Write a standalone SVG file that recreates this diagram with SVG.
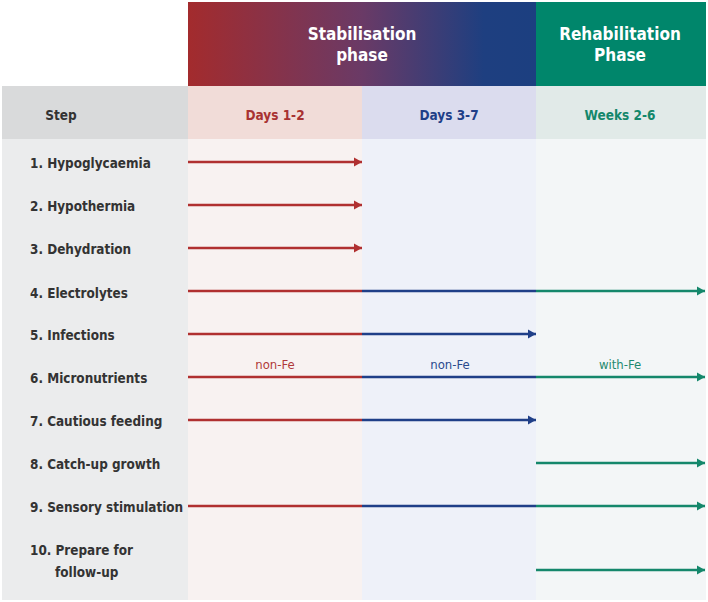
<svg xmlns="http://www.w3.org/2000/svg" width="708" height="602" viewBox="0 0 708 602">
<defs>
<linearGradient id="stab" x1="0" y1="0" x2="1" y2="0">
<stop offset="0" stop-color="#a32b2d"/>
<stop offset="0.5" stop-color="#6a3a66"/>
<stop offset="0.85" stop-color="#1e3f80"/>
<stop offset="1" stop-color="#1c3f80"/>
</linearGradient>
<marker id="ar" markerUnits="userSpaceOnUse" markerWidth="12" markerHeight="12" refX="9" refY="6" orient="auto"><path d="M1,1.5 L9,6 L1,10.5 Z" fill="#b03030"/></marker>
<marker id="ab" markerUnits="userSpaceOnUse" markerWidth="12" markerHeight="12" refX="9" refY="6" orient="auto"><path d="M1,1.5 L9,6 L1,10.5 Z" fill="#1f3f88"/></marker>
<marker id="ag" markerUnits="userSpaceOnUse" markerWidth="12" markerHeight="12" refX="9" refY="6" orient="auto"><path d="M1,1.5 L9,6 L1,10.5 Z" fill="#14876b"/></marker>
</defs>
<style>
.lbl{font-family:"DejaVu Sans Condensed","DejaVu Sans","Liberation Sans",sans-serif;font-weight:bold;font-size:13.4px;fill:#333333}
.hd{font-family:"DejaVu Sans Condensed","DejaVu Sans","Liberation Sans",sans-serif;font-weight:bold;font-size:17px;fill:#ffffff;text-anchor:middle}
.sub{font-family:"DejaVu Sans Condensed","DejaVu Sans","Liberation Sans",sans-serif;font-weight:bold;font-size:13.5px;text-anchor:middle}
.fe{font-family:"DejaVu Sans Condensed","DejaVu Sans","Liberation Sans",sans-serif;font-size:13px;text-anchor:middle}
.r{stroke:#b03030;stroke-width:2.5;fill:none}
.b{stroke:#1f3f88;stroke-width:2.5;fill:none}
.g{stroke:#14876b;stroke-width:2.5;fill:none}
</style>
<rect x="0" y="0" width="708" height="602" fill="#ffffff"/>
<g id="header">
<rect x="188" y="2" width="348" height="84" fill="url(#stab)"/>
<rect x="536" y="2" width="170" height="84" fill="#00866b"/>
<text class="hd" x="362" y="40">Stabilisation</text>
<text class="hd" x="362" y="61">phase</text>
<text class="hd" x="620" y="40">Rehabilitation</text>
<text class="hd" x="620" y="61">Phase</text>
</g>
<g id="subheader">
<rect x="2" y="86" width="186" height="53" fill="#d9dadb"/>
<rect x="188" y="86" width="174" height="53" fill="#f1dcd8"/>
<rect x="362" y="86" width="174" height="53" fill="#dbdcee"/>
<rect x="536" y="86" width="170" height="53" fill="#e1eae8"/>
<text class="sub" x="61" y="120" fill="#333333">Step</text>
<text class="sub" x="275" y="120" fill="#a83232">Days 1-2</text>
<text class="sub" x="449" y="120" fill="#1f3f88">Days 3-7</text>
<text class="sub" x="620" y="120" fill="#14876b">Weeks 2-6</text>
</g>
<g id="body">
<rect x="2" y="139" width="186" height="461" fill="#ebeced"/>
<rect x="188" y="139" width="174" height="461" fill="#f8f2f1"/>
<rect x="362" y="139" width="174" height="461" fill="#eef1f9"/>
<rect x="536" y="139" width="170" height="461" fill="#f3f6f7"/>
</g>
<g id="labels">
<text class="lbl" x="30" y="168">1. Hypoglycaemia</text>
<text class="lbl" x="30" y="211">2. Hypothermia</text>
<text class="lbl" x="30" y="254">3. Dehydration</text>
<text class="lbl" x="30" y="298">4. Electrolytes</text>
<text class="lbl" x="30" y="340">5. Infections</text>
<text class="lbl" x="30" y="383">6. Micronutrients</text>
<text class="lbl" x="30" y="426">7. Cautious feeding</text>
<text class="lbl" x="30" y="469">8. Catch-up growth</text>
<text class="lbl" x="30" y="512">9. Sensory stimulation</text>
<text class="lbl" x="30" y="555">10. Prepare for</text>
<text class="lbl" x="55" y="577">follow-up</text>
</g>
<g id="connectors">
<line class="r" x1="188" y1="162" x2="362" y2="162" marker-end="url(#ar)"/>
<line class="r" x1="188" y1="205" x2="362" y2="205" marker-end="url(#ar)"/>
<line class="r" x1="188" y1="248" x2="362" y2="248" marker-end="url(#ar)"/>
<line class="r" x1="188" y1="291" x2="362" y2="291"/>
<line class="b" x1="362" y1="291" x2="536" y2="291"/>
<line class="g" x1="536" y1="291" x2="705" y2="291" marker-end="url(#ag)"/>
<line class="r" x1="188" y1="334" x2="362" y2="334"/>
<line class="b" x1="362" y1="334" x2="536" y2="334" marker-end="url(#ab)"/>
<line class="r" x1="188" y1="377" x2="362" y2="377"/>
<line class="b" x1="362" y1="377" x2="536" y2="377"/>
<line class="g" x1="536" y1="377" x2="705" y2="377" marker-end="url(#ag)"/>
<line class="r" x1="188" y1="420" x2="362" y2="420"/>
<line class="b" x1="362" y1="420" x2="536" y2="420" marker-end="url(#ab)"/>
<line class="g" x1="536" y1="463" x2="705" y2="463" marker-end="url(#ag)"/>
<line class="r" x1="188" y1="506" x2="362" y2="506"/>
<line class="b" x1="362" y1="506" x2="536" y2="506"/>
<line class="g" x1="536" y1="506" x2="705" y2="506" marker-end="url(#ag)"/>
<line class="g" x1="536" y1="570" x2="705" y2="570" marker-end="url(#ag)"/>
<text class="fe" x="275" y="369" fill="#b03a3a">non-Fe</text>
<text class="fe" x="450" y="369" fill="#2a4a8e">non-Fe</text>
<text class="fe" x="620" y="369" fill="#1f8a70">with-Fe</text>
</g>
</svg>
